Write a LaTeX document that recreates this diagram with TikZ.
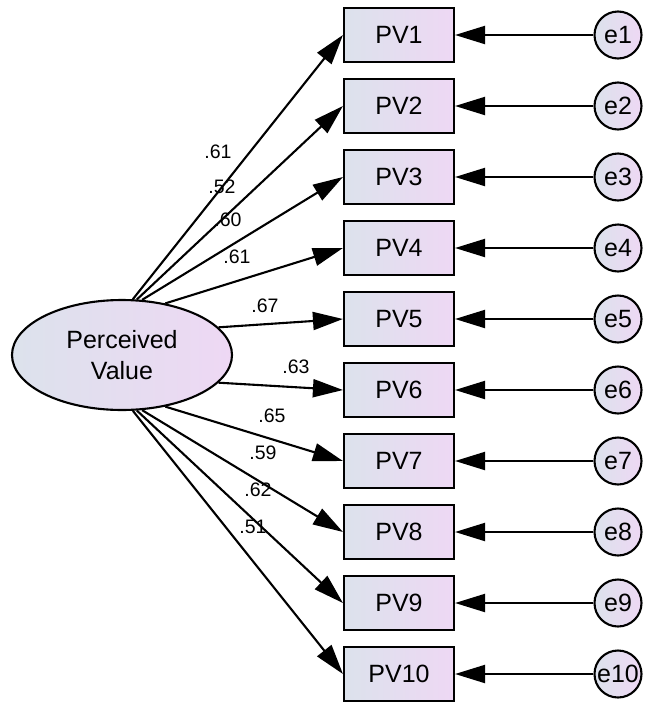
\documentclass[tikz,border=0pt]{standalone}
\usepackage{fontspec}
\setmainfont{Liberation Sans}
\usetikzlibrary{shapes.geometric,arrows.meta}

\definecolor{fillL}{RGB}{220,226,236}
\definecolor{fillR}{RGB}{238,216,244}

\tikzset{
  obs/.style={draw, line width=2.1pt, minimum width=110pt, minimum height=54pt,
    inner sep=0pt, left color=fillL, right color=fillR,
    font=\fontsize{25}{28}\selectfont},
  err/.style={circle, draw, line width=2.1pt, minimum size=47pt, inner sep=0pt,
    left color=fillL, right color=fillR, font=\fontsize{25}{28}\selectfont},
  lat/.style={ellipse, draw, line width=2.1pt, minimum width=220pt,
    minimum height=110pt, inner sep=0pt, left color=fillL, right color=fillR,
    align=center, font=\fontsize{25}{31}\selectfont},
  load/.style={line width=2.1pt, -{Triangle[length=30pt,width=18pt]}},
  coef/.style={inner sep=0pt, font=\fontsize{19.5}{21}\selectfont}
}

\begin{document}
\begin{tikzpicture}[x=1pt,y=-1pt]
\useasboundingbox (0,0) rectangle (645,702);

% latent factor
\node[lat] (pv) at (122,355) {Perceived\\Value};

% indicators, error terms, loadings
\foreach \i/\ang/\lx/\ly/\lab in {
   1/79/218/152/.61,
   2/75/222/187/.52,
   3/70/228/220/.60,
   4/50/237/257/.61,
   5/16/265/306/.67,
   6/-16/296/367/.63,
   7/-50/272/416/.65,
   8/-70/263/453/.59,
   9/-75/258/490/.62,
  10/-79/253/527/.51}{
  \pgfmathsetmacro{\yy}{35+71*(\i-1)}
  \node[obs] (b\i) at (399,\yy) {PV\i};
  \node[err] (e\i) at (618,\yy) {e\i};
  \draw[load] (e\i.west) -- (b\i.east);
  \draw[load] (pv.\ang) -- (b\i.west);
  \node[coef] (c\i) at (\lx,\ly) {\lab};
}
\end{tikzpicture}
\end{document}
